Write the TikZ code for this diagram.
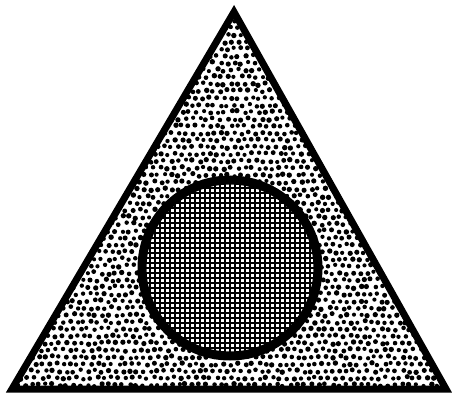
\documentclass[tikz,border=0pt]{standalone}
\begin{document}
\begin{tikzpicture}[x=1pt,y=-1pt,
  dotfill/.style={fill=black},
  gridline/.style={line width=1.7pt},
  outline/.style={line width=7pt,line join=miter}]
\useasboundingbox (0,0) rectangle (454,398);
\coordinate (A) at (234,12);
\coordinate (B) at (12,389);
\coordinate (C) at (446,389);
\coordinate (O) at (230,268);
% stippled triangle
\begin{scope}
\clip (A)--(B)--(C)--cycle;
\pgfmathsetseed{7}
\foreach \i in {0,...,66} {
  \foreach \j in {0,...,58} {
    \pgfmathsetmacro\xx{\i*7+mod(\j,2)*3.5+rand*1.4}
    \pgfmathsetmacro\yy{\j*7+rand*1.4}
    \pgfmathsetmacro\rr{2.4+rand*0.35}
    \fill[dotfill] (\xx,\yy) circle (\rr);
  }
}
\end{scope}
% cross-hatched circle
\fill[white] (O) circle (88);
\begin{scope}[shift={(O)}]
\clip (0,0) circle (88);
\foreach \k in {-90,-85,...,90} {
  \draw[gridline] (\k,-92) -- (\k,92);
  \draw[gridline] (-92,\k) -- (92,\k);
}
\end{scope}
\draw[line width=9pt] (O) circle (88);
\draw[outline] (A)--(B)--(C)--cycle;
\end{tikzpicture}
\end{document}
